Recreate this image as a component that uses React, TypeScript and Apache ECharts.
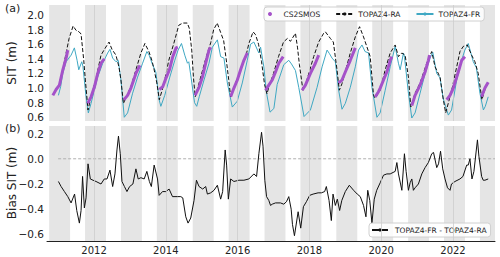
import React, { useEffect, useRef } from 'react';
import * as echarts from 'echarts';

const xTickYears = [2012, 2014, 2016, 2018, 2020, 2022];
const sitTicks = [0.6, 0.8, 1.0, 1.2, 1.4, 1.6, 1.8, 2.0];
const biasTicks = [-0.6, -0.4, -0.2, 0.0, 0.2];
const winterYears = [2010, 2011, 2012, 2013, 2014, 2015, 2016, 2017, 2018, 2019, 2020, 2021, 2022];

const topazRA: [number, number][] = [
  [2010.889, 0.93], [2011.028, 1.05], [2011.139, 1.27], [2011.222, 1.48], [2011.306, 1.68], [2011.417, 1.85],
  [2011.5, 1.79], [2011.583, 1.77], [2011.639, 1.74], [2011.714, 1.38], [2011.758, 1.11], [2011.833, 0.70],
  [2011.917, 0.88], [2012.056, 1.13], [2012.194, 1.45], [2012.278, 1.52], [2012.417, 1.63], [2012.5, 1.53],
  [2012.611, 1.45], [2012.694, 1.29], [2012.75, 1.11], [2012.819, 0.79], [2012.917, 0.90], [2013.028, 1.02],
  [2013.167, 1.25], [2013.306, 1.48], [2013.417, 1.61], [2013.528, 1.5], [2013.611, 1.38], [2013.667, 1.27],
  [2013.75, 1.07], [2013.819, 0.84], [2013.944, 1.05], [2014.083, 1.38], [2014.222, 1.61], [2014.361, 1.86],
  [2014.472, 1.89], [2014.597, 1.89], [2014.653, 1.82], [2014.722, 1.52], [2014.769, 1.15], [2014.819, 0.88],
  [2014.972, 1.15], [2015.111, 1.40], [2015.25, 1.62], [2015.333, 1.80], [2015.431, 1.89], [2015.528, 1.76],
  [2015.611, 1.65], [2015.694, 1.35], [2015.75, 1.12], [2015.806, 0.88], [2015.944, 1.07], [2016.083, 1.25],
  [2016.222, 1.42], [2016.314, 1.61], [2016.431, 1.77], [2016.5, 1.73], [2016.583, 1.6], [2016.667, 1.36],
  [2016.75, 1.05], [2016.819, 0.92], [2016.861, 1.0], [2017.0, 1.2], [2017.139, 1.43], [2017.278, 1.63],
  [2017.389, 1.68], [2017.472, 1.64], [2017.611, 1.75], [2017.667, 1.56], [2017.722, 1.32], [2017.819, 0.97],
  [2017.889, 1.04], [2018.119, 1.43], [2018.258, 1.63], [2018.397, 1.75], [2018.444, 1.77], [2018.583, 1.68],
  [2018.667, 1.63], [2018.769, 1.25], [2018.833, 0.97], [2018.908, 1.06], [2019.139, 1.48], [2019.278, 1.70],
  [2019.397, 1.84], [2019.508, 1.70], [2019.694, 1.43], [2019.786, 0.90], [2019.833, 0.86], [2019.972, 0.97],
  [2020.111, 1.25], [2020.25, 1.48], [2020.389, 1.59], [2020.481, 1.43], [2020.575, 1.48], [2020.667, 1.45],
  [2020.758, 1.15], [2020.825, 0.74], [2020.944, 0.93], [2021.083, 1.07], [2021.269, 1.34], [2021.408, 1.50],
  [2021.5, 1.29], [2021.639, 1.15], [2021.731, 0.84], [2021.797, 0.66], [2021.964, 0.97], [2022.194, 1.50],
  [2022.286, 1.57], [2022.397, 1.59], [2022.519, 1.45], [2022.611, 1.36], [2022.703, 1.2], [2022.806, 0.84],
  [2022.889, 0.98], [2022.981, 1.08],
];

const topazFR: [number, number][] = [
  [2011.008, 0.90], [2011.07, 1.02], [2011.13, 1.20], [2011.222, 1.36], [2011.361, 1.45], [2011.453, 1.55],
  [2011.528, 1.38], [2011.575, 1.25], [2011.658, 1.36], [2011.69, 1.30], [2011.778, 0.88], [2011.842, 0.66],
  [2011.917, 0.79], [2012.009, 0.97], [2012.102, 1.15], [2012.242, 1.34], [2012.38, 1.48], [2012.444, 1.53],
  [2012.519, 1.41], [2012.611, 1.36], [2012.675, 1.38], [2012.75, 1.11], [2012.842, 0.60], [2012.935, 0.66],
  [2013.075, 0.93], [2013.214, 1.15], [2013.353, 1.34], [2013.472, 1.50], [2013.536, 1.45], [2013.63, 1.32],
  [2013.722, 1.22], [2013.814, 0.84], [2013.861, 0.75], [2013.97, 0.90], [2014.111, 1.15], [2014.25, 1.38],
  [2014.342, 1.52], [2014.436, 1.61], [2014.528, 1.45], [2014.603, 1.34], [2014.64, 1.36], [2014.714, 1.11],
  [2014.80, 0.80], [2014.861, 0.75], [2014.93, 0.88], [2015.064, 1.11], [2015.203, 1.34], [2015.297, 1.56],
  [2015.436, 1.66], [2015.528, 1.43], [2015.619, 1.41], [2015.714, 1.07], [2015.852, 0.74], [2015.99, 0.82],
  [2016.13, 1.07], [2016.269, 1.38], [2016.361, 1.60], [2016.453, 1.63], [2016.592, 1.48], [2016.639, 1.56],
  [2016.731, 1.29], [2016.80, 0.95], [2016.903, 0.67], [2017.01, 0.72], [2017.102, 1.05], [2017.286, 1.32],
  [2017.425, 1.38], [2017.5, 1.33], [2017.611, 1.24], [2017.703, 1.01], [2017.85, 0.61], [2018.028, 0.70],
  [2018.214, 1.01], [2018.353, 1.29], [2018.492, 1.52], [2018.56, 1.47], [2018.631, 1.41], [2018.722, 1.36],
  [2018.814, 0.97], [2018.908, 0.71], [2019.0, 0.79], [2019.139, 1.01], [2019.278, 1.29], [2019.369, 1.52],
  [2019.464, 1.59], [2019.55, 1.50], [2019.647, 1.48], [2019.742, 1.01], [2019.881, 0.60], [2019.97, 0.66],
  [2020.111, 0.97], [2020.25, 1.29], [2020.389, 1.57], [2020.48, 1.34], [2020.528, 1.25], [2020.62, 1.48],
  [2020.65, 1.42], [2020.758, 0.93], [2020.852, 0.59], [2020.944, 0.66], [2021.083, 0.93], [2021.222, 1.20],
  [2021.361, 1.41], [2021.436, 1.49], [2021.547, 1.20], [2021.639, 1.14], [2021.73, 0.85], [2021.87, 0.63],
  [2021.96, 0.70], [2022.102, 1.11], [2022.24, 1.38], [2022.33, 1.52], [2022.425, 1.61], [2022.565, 1.36],
  [2022.65, 1.28], [2022.75, 0.93], [2022.847, 0.70], [2022.90, 0.75], [2022.981, 0.88],
];

const cs2smosSeasons: [number, number][][] = [
  [[2010.853, 0.90], [2010.944, 0.98], [2011.036, 1.04], [2011.131, 1.25], [2011.222, 1.41], [2011.269, 1.52]],
  [[2011.825, 0.79], [2011.917, 0.88], [2012.008, 1.01], [2012.103, 1.20], [2012.194, 1.34], [2012.286, 1.40]],
  [[2012.833, 0.84], [2012.936, 0.90], [2013.028, 1.0], [2013.167, 1.2], [2013.278, 1.31]],
  [[2013.82, 0.98], [2013.917, 1.02], [2014.008, 1.14], [2014.1, 1.25], [2014.194, 1.43], [2014.286, 1.55], [2014.333, 1.56]],
  [[2014.814, 0.90], [2014.925, 1.01], [2015.019, 1.15], [2015.111, 1.34], [2015.203, 1.52], [2015.25, 1.56]],
  [[2015.806, 0.88], [2015.897, 1.0], [2015.992, 1.11], [2016.083, 1.25], [2016.175, 1.38], [2016.269, 1.48]],
  [[2016.778, 0.97], [2016.869, 1.04], [2016.964, 1.11], [2017.056, 1.22], [2017.147, 1.34], [2017.269, 1.43]],
  [[2017.797, 0.97], [2017.889, 1.04], [2018.028, 1.2], [2018.167, 1.34], [2018.258, 1.45]],
  [[2018.814, 1.07], [2018.908, 1.11], [2019.0, 1.22], [2019.139, 1.38], [2019.278, 1.55]],
  [[2019.833, 0.88], [2019.925, 0.95], [2019.972, 1.0], [2020.064, 1.11], [2020.158, 1.22], [2020.25, 1.38], [2020.297, 1.43]],
  [[2020.853, 0.76], [2020.944, 0.90], [2021.083, 1.04], [2021.222, 1.22], [2021.314, 1.38], [2021.347, 1.45]],
  [[2021.825, 0.84], [2021.917, 0.90], [2022.008, 1.0], [2022.147, 1.22], [2022.242, 1.38], [2022.333, 1.43]],
  [[2022.797, 0.88], [2022.889, 1.0], [2022.981, 1.08]],
];

const biasFRminusRA: [number, number][] = [
  [2011.008, -0.18], [2011.083, -0.22], [2011.175, -0.26], [2011.269, -0.30], [2011.361, -0.35], [2011.458, -0.28],
  [2011.519, -0.41], [2011.592, -0.51], [2011.639, -0.41], [2011.681, -0.14], [2011.731, -0.39], [2011.778, -0.31],
  [2011.833, -0.04], [2011.897, -0.16], [2011.972, -0.17], [2012.056, -0.18], [2012.194, -0.20], [2012.286, -0.16],
  [2012.361, -0.16], [2012.444, -0.09], [2012.519, -0.22], [2012.583, -0.12], [2012.639, 0.07], [2012.681, 0.18],
  [2012.731, 0.04], [2012.778, -0.18], [2012.847, -0.22], [2012.917, -0.26], [2012.992, -0.22], [2013.083, -0.20],
  [2013.167, -0.08], [2013.231, -0.16], [2013.306, -0.15], [2013.397, -0.16], [2013.472, -0.10], [2013.542, -0.18],
  [2013.597, -0.22], [2013.675, -0.05], [2013.769, -0.16], [2013.814, -0.29], [2013.908, -0.26], [2014.0, -0.26],
  [2014.092, -0.24], [2014.186, -0.30], [2014.325, -0.30], [2014.417, -0.30], [2014.472, -0.31], [2014.556, -0.46],
  [2014.619, -0.51], [2014.694, -0.47], [2014.786, -0.33], [2014.853, -0.17], [2014.925, -0.22], [2015.028, -0.24],
  [2015.111, -0.22], [2015.158, -0.28], [2015.25, -0.27], [2015.342, -0.25], [2015.436, -0.21], [2015.528, -0.32],
  [2015.583, -0.26], [2015.653, 0.07], [2015.694, -0.05], [2015.742, -0.32], [2015.806, -0.16], [2015.897, -0.18],
  [2016.036, -0.17], [2016.175, -0.17], [2016.314, -0.16], [2016.453, -0.12], [2016.528, -0.14], [2016.592, 0.04],
  [2016.667, 0.21], [2016.708, 0.10], [2016.758, -0.17], [2016.806, -0.30], [2016.869, -0.33], [2016.917, -0.37],
  [2016.964, -0.36], [2017.056, -0.35], [2017.194, -0.35], [2017.286, -0.36], [2017.361, -0.34], [2017.425, -0.30],
  [2017.492, -0.40], [2017.528, -0.52], [2017.583, -0.61], [2017.686, -0.42], [2017.758, -0.55], [2017.833, -0.38],
  [2017.917, -0.34], [2018.008, -0.29], [2018.103, -0.28], [2018.242, -0.27], [2018.333, -0.27], [2018.425, -0.26],
  [2018.472, -0.22], [2018.547, -0.33], [2018.611, -0.49], [2018.658, -0.28], [2018.722, -0.37], [2018.778, -0.32],
  [2018.842, -0.41], [2018.903, -0.33], [2019.0, -0.26], [2019.111, -0.21], [2019.231, -0.25], [2019.333, -0.28],
  [2019.417, -0.30], [2019.508, -0.37], [2019.575, -0.46], [2019.625, -0.25], [2019.681, -0.33], [2019.742, -0.51],
  [2019.806, -0.32], [2019.875, -0.25], [2019.972, -0.19], [2020.064, -0.13], [2020.158, -0.12], [2020.25, -0.12],
  [2020.389, -0.10], [2020.436, -0.03], [2020.481, -0.12], [2020.575, -0.25], [2020.647, 0.04], [2020.694, -0.10],
  [2020.758, -0.25], [2020.806, -0.19], [2020.853, -0.16], [2020.897, -0.25], [2020.944, -0.23], [2021.036, -0.20],
  [2021.131, -0.12], [2021.222, -0.07], [2021.314, -0.03], [2021.408, 0.04], [2021.458, 0.05], [2021.547, -0.07],
  [2021.597, -0.04], [2021.653, 0.06], [2021.714, -0.08], [2021.778, -0.16], [2021.847, -0.23], [2021.917, -0.25],
  [2021.958, -0.20], [2022.056, -0.18], [2022.194, -0.16], [2022.278, -0.14], [2022.381, -0.05], [2022.425, -0.05],
  [2022.472, 0.0], [2022.528, -0.16], [2022.583, -0.10], [2022.681, 0.15], [2022.722, 0.02], [2022.797, -0.14],
  [2022.842, -0.17], [2022.889, -0.17], [2022.981, -0.16],
];

const X_MIN = 2010.69;
const X_MAX = 2023.17;
const ZERO_LINE_START = 2011.0;

const FONT = 'DejaVu Sans';
const TXT = '#222';
const RA_COLOR = '#111111';
const FR_COLOR = '#3fa8c3';
const CS_COLOR = '#a552c9';

const fmt = (v: number) => (Math.abs(v) < 1e-9 ? '0.0' : v.toFixed(1).replace('-', '\u2212'));

export default function App() {
  const ref = useRef<HTMLDivElement>(null);
  useEffect(() => {
    if (!ref.current) return;
    const chart = echarts.init(ref.current, undefined, { renderer: 'svg' });

    const winterAreas = winterYears.map((y) => [
      { xAxis: Math.max(y + 0.75, X_MIN) },
      { xAxis: Math.min(y + 4 / 3, X_MAX) },
    ]);
    const gridLines = xTickYears.map((y) => ({ xAxis: y }));

    const backdrop = (xi: number, yi: number, yv: number) => ({
      type: 'line',
      xAxisIndex: xi,
      yAxisIndex: yi,
      data: [[X_MIN, yv]],
      symbol: 'none',
      showSymbol: false,
      silent: true,
      z: 0,
      lineStyle: { opacity: 0 },
      markArea: {
        silent: true,
        itemStyle: { color: '#e5e5e5' },
        data: winterAreas,
      },
      markLine: {
        silent: true,
        symbol: 'none',
        label: { show: false },
        lineStyle: { color: '#cdcdcd', type: 'solid', width: 0.8 },
        data: gridLines,
      },
    });

    const xBase = {
      type: 'value',
      min: X_MIN,
      max: X_MAX,
      splitLine: { show: false },
    };

    const yBase = {
      type: 'value',
      axisLine: { show: false },
      axisTick: { show: false },
      splitLine: { show: false },
    };

    const csSeries = cs2smosSeasons.map((season) => ({
      name: 'CS2SMOS',
      type: 'line',
      xAxisIndex: 0,
      yAxisIndex: 0,
      data: season,
      symbol: 'none',
      showSymbol: false,
      z: 5,
      itemStyle: { color: CS_COLOR },
      lineStyle: { color: CS_COLOR, width: 3 },
    }));

    const legendBox = {
      backgroundColor: 'rgba(255,255,255,0.85)',
      borderColor: '#d0d0d0',
      borderWidth: 1,
      borderRadius: 3,
      textStyle: { fontFamily: FONT, fontSize: 7.5, color: TXT },
    };

    const axisTitle = (text: string, y: number) => ({
      type: 'text',
      x: 12,
      y,
      rotation: Math.PI / 2,
      style: {
        text,
        fontFamily: FONT,
        fontSize: 12,
        fill: TXT,
        align: 'center',
        verticalAlign: 'middle',
      },
    });

    chart.setOption({
      animation: false,
      backgroundColor: '#ffffff',
      grid: [
        { left: 47, right: 5, top: 5, height: 116, containLabel: false, outerBoundsMode: 'none' },
        { left: 47, right: 5, top: 126, height: 115, containLabel: false, outerBoundsMode: 'none' },
      ],
      xAxis: [
        {
          ...xBase,
          gridIndex: 0,
          axisLine: { show: false },
          axisTick: { show: false },
          axisLabel: { show: false },
        },
        {
          ...xBase,
          gridIndex: 1,
          axisLine: { show: true, onZero: false, lineStyle: { color: '#222', width: 1 } },
          axisTick: { show: false },
          axisLabel: {
            show: true,
            customValues: xTickYears,
            formatter: (v: number) => String(Math.round(v)),
            fontFamily: FONT,
            fontSize: 10,
            color: TXT,
            margin: 4,
          },
        },
      ],
      yAxis: [
        {
          ...yBase,
          gridIndex: 0,
          min: 0.549,
          max: 2.137,
          axisLabel: {
            customValues: sitTicks,
            formatter: fmt,
            fontFamily: FONT,
            fontSize: 10.5,
            color: TXT,
            margin: 3,
          },
        },
        {
          ...yBase,
          gridIndex: 1,
          min: -0.652,
          max: 0.26,
          axisLabel: {
            customValues: biasTicks,
            formatter: fmt,
            fontFamily: FONT,
            fontSize: 10.5,
            color: TXT,
            margin: 3,
          },
        },
      ],
      legend: [
        {
          ...legendBox,
          left: 264,
          top: 7,
          padding: [3, 4, 3, 4],
          itemGap: 15,
          itemWidth: 17,
          itemHeight: 4,
          data: [
            { name: 'CS2SMOS', icon: 'circle', itemStyle: { color: CS_COLOR } },
            { name: 'TOPAZ4-RA' },
            { name: 'TOPAZ4-FR' },
          ],
        },
        {
          ...legendBox,
          left: 369,
          top: 223,
          padding: [3, 4, 3, 2],
          itemWidth: 16,
          itemHeight: 4,
          textStyle: { ...legendBox.textStyle, padding: [0, 0, 0, 2] },
          data: [{ name: 'TOPAZ4-FR - TOPAZ4-RA' }],
        },
      ],
      graphic: [
        { type: 'text', left: 5, top: 3, style: { text: '(a)', fontFamily: FONT, fontSize: 11, fill: TXT } },
        { type: 'text', left: 5, top: 123, style: { text: '(b)', fontFamily: FONT, fontSize: 11, fill: TXT } },
        axisTitle('SIT (m)', 63),
        axisTitle('Bias SIT (m)', 183),
      ],
      series: [
        backdrop(0, 0, 1),
        backdrop(1, 1, 0),
        {
          name: 'zero',
          type: 'line',
          xAxisIndex: 1,
          yAxisIndex: 1,
          data: [[ZERO_LINE_START, 0], [X_MAX, 0]],
          symbol: 'none',
          showSymbol: false,
          silent: true,
          z: 1,
          lineStyle: { color: '#b0b0b0', width: 1, type: [3, 2] },
        },
        {
          name: 'TOPAZ4-FR',
          type: 'line',
          xAxisIndex: 0,
          yAxisIndex: 0,
          data: topazFR,
          symbol: 'none',
          showSymbol: false,
          z: 3,
          itemStyle: { color: FR_COLOR },
          lineStyle: { color: FR_COLOR, width: 1 },
        },
        {
          name: 'TOPAZ4-RA',
          type: 'line',
          xAxisIndex: 0,
          yAxisIndex: 0,
          data: topazRA,
          symbol: 'none',
          showSymbol: false,
          z: 4,
          itemStyle: { color: RA_COLOR },
          lineStyle: { color: RA_COLOR, width: 1, type: [4, 2] },
        },
        ...csSeries,
        {
          name: 'TOPAZ4-FR - TOPAZ4-RA',
          type: 'line',
          xAxisIndex: 1,
          yAxisIndex: 1,
          data: biasFRminusRA,
          symbol: 'none',
          showSymbol: false,
          z: 3,
          itemStyle: { color: '#111' },
          lineStyle: { color: '#111', width: 1 },
        },
      ],
    });

    return () => chart.dispose();
  }, []);

  return (
    <div
      ref={ref}
      style={{ position: 'fixed', left: 0, top: 0, width: 500, height: 257, background: '#fff' }}
    />
  );
}
